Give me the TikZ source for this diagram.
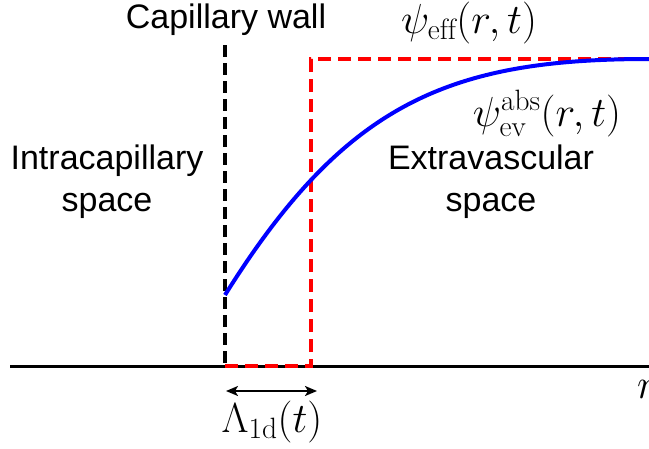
\RequirePackage{fix-cm}
\documentclass[tikz,border=0pt]{standalone}
\usepackage{fontspec}
\newfontfamily\arial{Liberation Sans}
\usetikzlibrary{arrows.meta}
\tikzset{
  sanslabel/.style={font=\arial\fontsize{34}{42}\selectfont, align=center, inner sep=0pt, anchor=base},
  mathlabel/.style={font=\fontsize{42}{48}\selectfont, inner sep=0pt, anchor=base},
  axisline/.style={line width=3pt, black},
  wall/.style={line width=3.2pt, black, dash pattern=on 12pt off 6pt},
  effline/.style={line width=3.5pt, red, dash pattern=on 13pt off 7pt},
  evcurve/.style={line width=4pt, blue},
  widtharrow/.style={line width=2pt, {Stealth[length=12pt,width=10pt,inset=3pt]}-{Stealth[length=12pt,width=10pt,inset=3pt]}}
}
\begin{document}
\begin{tikzpicture}[x=1pt,y=-1pt]
\useasboundingbox (0,0) rectangle (649,448);
\begin{scope}
\clip (0,0) rectangle (649,448);
% coordinates
\coordinate (axL) at (10,366);
\coordinate (axR) at (649,366);
\coordinate (wallB) at (225,366);
\coordinate (wallT) at (225,45);
\coordinate (effB) at (311,366);
\coordinate (effT) at (311,59);
\coordinate (effR) at (649,59);
\coordinate (arrL) at (226,391);
\coordinate (arrR) at (317,391);
\coordinate (curveS) at (225,295);
\coordinate (curveE) at (649,59);
% axis
\draw[axisline] (axL) -- (axR);
% capillary wall
\draw[wall] (wallT) -- (wallB);
% effective step
\draw[effline] (wallB) -- (effB) -- (effT) -- (effR);
% curve
\draw[evcurve] (curveS) .. controls (345,103) and (449,59) .. (curveE);
% arrow
\draw[widtharrow] (arrL) -- (arrR);
% labels
\node[sanslabel] (cap) at (226,28) {Capillary wall};
\node[sanslabel] (intra) at (107,211) {Intracapillary\\space};
\node[sanslabel] (extra) at (491,211) {Extravascular\\space};
\node[mathlabel] (psieff) at (469,33) {$\psi_{\mathrm{eff}}(r,t)$};
\node[mathlabel] (psiev) at (547,126) {$\psi_{\mathrm{ev}}^{\mathrm{abs}}(r,t)$};
\node[mathlabel] (lam) at (272,432) {$\Lambda_{\mathrm{1d}}(t)$};
\node[mathlabel, anchor=base west] (rlab) at (637,398) {$r$};
\end{scope}
\end{tikzpicture}
\end{document}
